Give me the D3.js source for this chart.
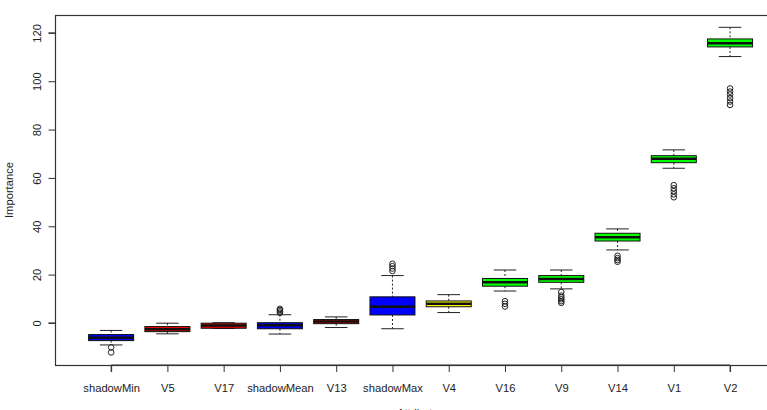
<!DOCTYPE html>
<html>
<head>
<meta charset="utf-8">
<script src="https://cdn.jsdelivr.net/npm/d3@7"></script>
<style>
  body { margin: 0; background: #fff; }
  svg text { font-family: "Liberation Sans", Arial, sans-serif; fill: #222; }
</style>
</head>
<body>
<svg id="chart" width="767" height="410"></svg>
<script>
// Boruta importance, one box per attribute
let attributes = ["shadowMin", "V5", "V17", "shadowMean", "V13", "shadowMax", "V4", "V16", "V9", "V14", "V1", "V2"];
let decisions = ["Shadow", "Rejected", "Rejected", "Shadow", "Rejected", "Shadow", "Tentative", "Confirmed", "Confirmed", "Confirmed", "Confirmed", "Confirmed"];

let lowerWhisker = [-9.1, -4.5, -2.3, -4.6, -1.9, -2.4, 4.3, 13.2, 14.1, 30.2, 64.0, 110.2];
let q1 = [-7.3, -3.6, -2.2, -2.4, -0.3, 3.3, 6.7, 15.2, 16.8, 33.9, 66.3, 114.2];
let median = [-6.1, -2.6, -1.1, -1.0, 0.6, 6.7, 7.9, 16.8, 18.2, 35.5, 67.9, 115.7];
let q3 = [-4.8, -1.5, -0.1, 0.1, 1.4, 10.8, 9.1, 18.4, 19.6, 37.1, 69.2, 117.5];
let upperWhisker = [-3.1, -0.1, 0.1, 3.4, 2.5, 19.6, 11.7, 21.9, 21.9, 38.9, 71.6, 122.3];
let outliers = [
    [-10.1, -12.2],
    [],
    [],
    [4.2, 4.8, 5.4, 5.8],
    [],
    [21.5, 22.5, 23.5, 24.5],
    [],
    [6.8, 7.9, 9.0],
    [8.3, 9.0, 9.8, 10.6, 11.3, 12.8],
    [25.3, 26.0, 26.8, 27.8],
    [52.0, 53.2, 54.5, 55.7, 57.0],
    [90.2, 91.6, 93.0, 94.5, 95.7, 97.0]
];
let yTicks = [0, 20, 40, 60, 80, 100, 120];

let decisionColor = {Shadow: "#0000ff", Rejected: "#ff0000", Tentative: "#ffff00", Confirmed: "#00ff00"};

let svg = d3.select("#chart");

let x = d3.scaleLinear()
    .domain([0.02, 12.98])
    .range([56, 785.2]);

let y = d3.scaleLinear()
    .domain([-17.4, 127.4])
    .range([365, 15]);

let boxW = 0.8 * (x(2) - x(1));

let boxes = attributes.map((a, i) => ({
    name: a, pos: i + 1, decision: decisions[i],
    lw: lowerWhisker[i], q1: q1[i], med: median[i], q3: q3[i], uw: upperWhisker[i],
    out: outliers[i]
}));

// plot frame
svg.append("rect")
    .attr("x", x(0.02) - 0.5)
    .attr("y", y(127.4) + 0.5)
    .attr("width", x(12.98) - x(0.02))
    .attr("height", y(-17.4) - y(127.4))
    .attr("fill", "none")
    .attr("stroke", "#333")
    .attr("stroke-width", 1.2);

let g = svg.append("g");

let box = g.selectAll("g.box")
    .data(boxes)
    .enter()
    .append("g")
    .attr("class", "box");

// dashed whiskers
box.append("line")
    .attr("x1", d => x(d.pos)).attr("x2", d => x(d.pos))
    .attr("y1", d => y(d.uw)).attr("y2", d => y(d.q3))
    .attr("stroke", "#222").attr("stroke-dasharray", "2,2");
box.append("line")
    .attr("x1", d => x(d.pos)).attr("x2", d => x(d.pos))
    .attr("y1", d => y(d.q1)).attr("y2", d => y(d.lw))
    .attr("stroke", "#222").attr("stroke-dasharray", "2,2");

// staples
box.selectAll("line.staple")
    .data(d => [d.lw, d.uw].map(v => ({pos: d.pos, v: v})))
    .enter()
    .append("line")
    .attr("class", "staple")
    .attr("x1", d => x(d.pos) - boxW / 4).attr("x2", d => x(d.pos) + boxW / 4)
    .attr("y1", d => y(d.v)).attr("y2", d => y(d.v))
    .attr("stroke", "#222");

box.append("rect")
    .attr("x", d => x(d.pos) - boxW / 2)
    .attr("y", d => y(d.q3))
    .attr("width", boxW)
    .attr("height", d => y(d.q1) - y(d.q3))
    .attr("fill", d => decisionColor[d.decision])
    .attr("stroke", "#111")
    .attr("stroke-width", 1);

box.append("line")
    .attr("x1", d => x(d.pos) - boxW / 2).attr("x2", d => x(d.pos) + boxW / 2)
    .attr("y1", d => y(d.med)).attr("y2", d => y(d.med))
    .attr("stroke", "#111").attr("stroke-width", 2.5);

box.selectAll("circle")
    .data(d => d.out.map(v => ({pos: d.pos, v: v})))
    .enter()
    .append("circle")
    .attr("cx", d => x(d.pos))
    .attr("cy", d => y(d.v))
    .attr("r", 2.8)
    .attr("fill", "none")
    .attr("stroke", "#222")
    .attr("stroke-width", 1);

// y axis
let yAxis = d3.axisLeft(y).tickValues(yTicks).tickSize(7).tickPadding(5);
let ya = svg.append("g")
    .attr("transform", `translate(${x(0.02) - 0.5},0)`)
    .call(yAxis);
ya.select(".domain").attr("d", `M-7,${y(0)}H0V${y(120)}H-7`).attr("stroke", "#333");
ya.selectAll(".tick line").attr("stroke", "#333");
ya.selectAll(".tick text")
    .attr("transform", "rotate(-90)")
    .attr("x", 0)
    .attr("y", -15)
    .attr("dy", "0")
    .attr("text-anchor", "middle")
    .attr("font-size", "11.2px")
    .attr("font-family", "Liberation Sans, Arial, sans-serif")
    .attr("fill", "#222");

// x axis
let xAxis = d3.axisBottom(x).tickValues(d3.range(1, 13)).tickSize(7).tickPadding(12)
    .tickFormat(d => attributes[d - 1]);
let xa = svg.append("g")
    .attr("transform", `translate(0,${y(-17.4)})`)
    .call(xAxis);
xa.select(".domain").attr("d", `M${x(1)},7V0H${x(12)}V7`).attr("stroke", "#333");
xa.selectAll(".tick line").attr("stroke", "#333");
xa.selectAll(".tick text")
    .attr("font-size", "11.2px")
    .attr("font-family", "Liberation Sans, Arial, sans-serif")
    .attr("fill", "#222");

svg.append("text")
    .attr("transform", `translate(13,${(y(127.4) + y(-17.4)) / 2}) rotate(-90)`)
    .attr("text-anchor", "middle")
    .attr("font-size", "11.2px")
    .text("Importance");

svg.append("text")
    .attr("x", (x(0.02) + x(12.98)) / 2)
    .attr("y", 417)
    .attr("text-anchor", "middle")
    .attr("font-size", "11.2px")
    .text("Attributes");
</script>
</body>
</html>
